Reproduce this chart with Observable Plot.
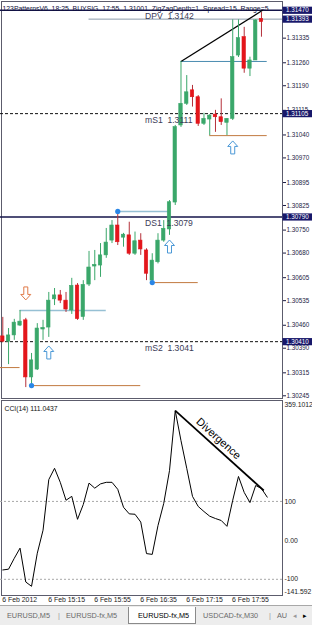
<!DOCTYPE html>
<html><head><meta charset="utf-8">
<script src="https://cdn.jsdelivr.net/npm/d3@7"></script>
<script src="https://cdn.jsdelivr.net/npm/@observablehq/plot@0.6"></script>
<style>
html,body{margin:0;padding:0;background:#fff;}
#wrap{position:relative;width:312px;height:625px;overflow:hidden;font-family:"Liberation Sans",Arial,sans-serif;}
#price,#cci{position:absolute;left:0;}
#price{top:0;} #cci{top:399px;}
#tabs{position:absolute;left:0;top:605px;width:312px;height:20px;background:#ededed;border-top:1px solid #a8a8a8;box-sizing:border-box;font-size:7.3px;color:#6a6a6a;}
#tabs span{position:absolute;top:5px;white-space:nowrap;}
#tabs .active{position:absolute;top:1px;height:17px;background:#fff;border:1px solid #8a8a8a;border-top:none;box-sizing:border-box;}
#tabs .active span{color:#000;top:4px;}
</style></head><body><div id="wrap"><div id="price"></div><div id="cci"></div><div id="tabs"></div></div>
<script>
// ---------- data ----------
const titleText = "123PatternsV6\u00a0\u00a018:25\u00a0\u00a0BUYSIG\u00a0\u00a017:55\u00a0\u00a01.31001\u00a0\u00a0ZigZagDepth=1\u00a0\u00a0Spread=15\u00a0\u00a0Range=5";
const opens  = [1.30426,1.30410,1.30429,1.30459,1.30475,1.30301,1.30325,1.30447,1.30453,1.30539,1.30551,1.30535,1.30505,1.30581,1.30485,1.30584,1.30639,1.30642,1.30673,1.30718,1.30764,1.30727,1.30734,1.30678,1.30718,1.30688,1.30596,1.30652,1.30718,1.30752,1.30834,1.31069,1.31135,1.31176,1.31155,1.31074,1.31087,1.31102,1.31094,1.31077,1.31089,1.31282,1.31338,1.31242,1.31267,1.31394,1.31393];
const highs  = [1.30484,1.30450,1.30478,1.30505,1.30481,1.30374,1.30465,1.30475,1.30560,1.30572,1.30566,1.30560,1.30603,1.30587,1.30596,1.30685,1.30688,1.30709,1.30755,1.30779,1.30807,1.30740,1.30774,1.30744,1.30739,1.30693,1.30678,1.30739,1.30779,1.30840,1.31069,1.31264,1.31221,1.31191,1.31160,1.31106,1.31102,1.31115,1.31150,1.31090,1.31391,1.31391,1.31368,1.31277,1.31391,1.31413,1.31393];
const lows   = [1.30407,1.30340,1.30414,1.30456,1.30270,1.30276,1.30322,1.30414,1.30423,1.30520,1.30526,1.30499,1.30493,1.30475,1.30475,1.30578,1.30596,1.30606,1.30664,1.30709,1.30703,1.30698,1.30673,1.30673,1.30673,1.30596,1.30590,1.30647,1.30713,1.30734,1.30825,1.31063,1.31130,1.31125,1.31066,1.31069,1.31038,1.31048,1.31069,1.31038,1.31084,1.31276,1.31228,1.31218,1.31267,1.31338,1.31393];
const closes = [1.30410,1.30429,1.30468,1.30471,1.30301,1.30353,1.30450,1.30452,1.30535,1.30551,1.30535,1.30508,1.30580,1.30479,1.30583,1.30636,1.30644,1.30673,1.30712,1.30764,1.30713,1.30736,1.30678,1.30716,1.30691,1.30617,1.30657,1.30718,1.30754,1.30835,1.31064,1.31135,1.31170,1.31155,1.31074,1.31089,1.31099,1.31094,1.31079,1.31089,1.31277,1.31335,1.31242,1.31267,1.31389,1.31384,1.31393];
const cciValues = [-76,-74,-46,-20,-107,-118,-33,26,156,185,149,103,113,54,92,147,134,145,149,149,131,85,68,67,47,-34,-36,38,95,179,333,256,185,113,87,74,62,56,51,36,103,164,123,97,141,133,111];

const priceTicks = [1.31335,1.31260,1.31190,1.31115,1.31040,1.30970,1.30895,1.30825,1.30750,1.30680,1.30605,1.30535,1.30460,1.30390,1.30315,1.30245];
const markerTexts  = ["1.31470","1.31393","1.31105","1.30790","1.30410"];
const markerPrices = [1.31420,1.31393,1.31105,1.30790,1.30410];

const levelNames  = ["DPV","mS1","DS1","mS2"];
const levelShown  = ["1.3142","1.3111","1.3079","1.3041"];
const levelPrices = [1.31420,1.31105,1.30790,1.30410];
const levelDashed = [false,true,false,true];
const levelLabelBar = 25;

const bidPrice = 1.31393, bidFromBar = 15;

const segFrom  = [31,20,3,36,26,5,-0.4];
const segTo    = [46,29,18,46,34,24,3];
const segPrice = [1.31264,1.30807,1.30505,1.31038,1.30590,1.30276,1.30331];
const segKind  = ["steel","light","light","brown","brown","brown","brown"];

const trendBars = [31,45.2], trendPrices = [1.31264,1.31420];

const pivotBars = [20,26,5], pivotPrices = [1.30807,1.30590,1.30276];
const signalBars = [40,29,8,4], signalPrices = [1.31002,1.30700,1.30377,1.30557], signalDir = ["up","up","up","down"];

const cciTitle = "CCI(14) 111.0437";
const cciMax = 359.1012, cciMin = -141.592;
const cciLevels = [100,-100];
const cciAxisValues = [100,0,-100], cciAxisTexts = ["100","0.00","-100"];
const divBars = [30,45.4], divValues = [333,128];
const divText = "Divergence";

const timeBars = [0,8,16,24,32,40];
const timeLabels = ["6 Feb 2012","6 Feb 15:15","6 Feb 15:55","6 Feb 16:35","6 Feb 17:15","6 Feb 17:55"];

const tabNames = ["EURUSD,M5","EURUSD-fx,M5","EURUSD-fx,M5","USDCAD-fx,M30","AU"];
const activeTab = 2;

// ---------- build ----------
const GREEN = "#3aa76a", RED = "#e3161b", RED_WICK = "#b4303a";
const FONT = "'Liberation Sans', Arial, sans-serif";
const xDomain = [-0.4, 48.66];

const candles = opens.map((o, i) => ({i, o, h: highs[i], l: lows[i], c: closes[i], up: closes[i] >= o}));
const markers = markerTexts.map((t, k) => ({t, p: markerPrices[k]}));
const levels = levelNames.map((n, k) => ({n, s: levelShown[k], p: levelPrices[k], dashed: levelDashed[k]}));
const segs = segFrom.map((f, k) => ({f, t: segTo[k], p: segPrice[k], kind: segKind[k]}));
const pivots = pivotBars.map((b, k) => ({b, p: pivotPrices[k]}));
const signals = signalBars.map((b, k) => ({b, p: signalPrices[k], d: signalDir[k]}));
const segColor = {steel: "#4a8cb0", light: "#96c0d4", brown: "#c27a40"};
const segWidth = {steel: 1, light: 1.5, brown: 1};

const upArrow = {draw(ctx, size) {
  const s = Math.sqrt(size / Math.PI) / 5;
  ctx.moveTo(0, -6.5*s); ctx.lineTo(5*s, -1*s); ctx.lineTo(2*s, -1*s); ctx.lineTo(2*s, 6.5*s);
  ctx.lineTo(-2*s, 6.5*s); ctx.lineTo(-2*s, -1*s); ctx.lineTo(-5*s, -1*s); ctx.closePath();
}};
const downArrow = {draw(ctx, size) {
  const s = Math.sqrt(size / Math.PI) / 5;
  ctx.moveTo(0, 6.5*s); ctx.lineTo(5*s, 1*s); ctx.lineTo(2*s, 1*s); ctx.lineTo(2*s, -6.5*s);
  ctx.lineTo(-2*s, -6.5*s); ctx.lineTo(-2*s, 1*s); ctx.lineTo(-5*s, 1*s); ctx.closePath();
}};
const boxSymbol = {draw(ctx) { ctx.moveTo(0, -3.6); ctx.lineTo(30, -3.6); ctx.lineTo(30, 3.6); ctx.lineTo(0, 3.6); ctx.closePath(); }};

const priceChart = Plot.plot({
  width: 312, height: 399,
  marginLeft: 0, marginRight: 30, marginTop: 0, marginBottom: 0,
  x: {domain: xDomain, axis: null},
  y: {domain: [1.302337, 1.314498], axis: "right", ticks: priceTicks, tickFormat: d => d.toFixed(5), tickSize: 3, tickPadding: 1, label: null},
  style: {fontFamily: FONT, fontSize: "6.3px", color: "#1c1c44", background: "transparent", overflow: "visible"},
  marks: [
    Plot.frame({stroke: "#5c5c6c", insetLeft: 1, insetTop: 1, insetBottom: 1}),
    Plot.ruleY(levels.filter(d => !d.dashed), {y: "p", stroke: "#14144a", strokeWidth: 1.5}),
    Plot.ruleY(levels.filter(d => d.dashed), {y: "p", stroke: "#111", strokeWidth: 1, strokeDasharray: "3,2"}),
    Plot.ruleY([bidPrice], {y: d => d, x1: bidFromBar, x2: xDomain[1], stroke: "#8a9aaa", strokeWidth: 1}),
    Plot.ruleY(segs, {y: "p", x1: "f", x2: "t", stroke: d => segColor[d.kind], strokeWidth: d => segWidth[d.kind]}),
    Plot.link([0], {x1: trendBars[0], y1: trendPrices[0], x2: trendBars[1], y2: trendPrices[1], stroke: "#000", strokeWidth: 1.3}),
    Plot.ruleX(candles, {x: "i", y1: "l", y2: "h", stroke: d => d.up ? GREEN : RED_WICK, strokeWidth: 1}),
    Plot.rect(candles, {x1: d => d.i - 0.3, x2: d => d.i + 0.3, y1: "o", y2: "c", fill: d => d.up ? GREEN : RED, stroke: d => d.up ? GREEN : RED, strokeWidth: 0.6}),
    Plot.dot(pivots, {x: "b", y: "p", r: 2.6, fill: "#2a86e6"}),
    Plot.dot(signals.filter(d => d.d === "up"), {x: "b", y: "p", r: 5, symbol: upArrow, fill: "white", stroke: "#4a98d6", strokeWidth: 1}),
    Plot.dot(signals.filter(d => d.d === "down"), {x: "b", y: "p", r: 5, symbol: downArrow, fill: "white", stroke: "#e07a48", strokeWidth: 1}),
    Plot.text(levels, {x: levelLabelBar, y: "p", text: d => d.n + "\u00a0\u00a0" + d.s, dx: -1.5, dy: 6.3, textAnchor: "start", fontSize: 8.6, fill: "#3c3c58"}),
    Plot.dot(markers, {y: "p", frameAnchor: "right", symbol: boxSymbol, fill: "#18186a"}),
    Plot.text(markers, {y: "p", frameAnchor: "right", text: "t", textAnchor: "start", dx: 3.5, fill: "white", fontSize: 6.3}),
    Plot.text([titleText], {frameAnchor: "top-left", text: d => d, dx: 2, dy: 6.2, textAnchor: "start", fontSize: 6.6, fill: "#10103a"})
  ]
});
priceChart.querySelectorAll("text").forEach(t => {
  if (t.textContent.startsWith("123Pattern")) { t.setAttribute("textLength", "266"); t.setAttribute("lengthAdjust", "spacingAndGlyphs"); }
});
document.getElementById("price").appendChild(priceChart);

const cciPts = cciValues.map((v, i) => ({i, v}));
const cciChart = Plot.plot({
  width: 312, height: 210,
  marginLeft: 0, marginRight: 30, marginTop: 1, marginBottom: 14,
  x: {domain: xDomain, axis: null},
  y: {domain: [cciMin, cciMax], axis: null},
  style: {fontFamily: FONT, fontSize: "6.8px", color: "#1c1c1c", background: "transparent", overflow: "visible"},
  marks: [
    Plot.frame({stroke: "#5c5c6c", insetLeft: 1}),
    Plot.ruleY(cciLevels, {stroke: "#a8a8a8", strokeDasharray: "2,2"}),
    Plot.line(cciPts, {x: "i", y: "v", stroke: "#000", strokeWidth: 1}),
    Plot.link([0], {x1: divBars[0], y1: divValues[0], x2: divBars[1], y2: divValues[1], stroke: "#000", strokeWidth: 1.7}),
    Plot.text([divText], {x: (divBars[0] + divBars[1]) / 2, y: (divValues[0] + divValues[1]) / 2, text: d => d, rotate: 42, dx: -1, dy: -12, fontSize: 11, fill: "#000"}),
    Plot.text([cciTitle], {frameAnchor: "top-left", text: d => d, dx: 4, dy: 5.5, textAnchor: "start", fontSize: 6.8, fill: "#111"}),
    Plot.text(cciAxisValues, {y: d => d, frameAnchor: "right", text: (d, k) => cciAxisTexts[k], textAnchor: "start", dx: 2, fontSize: 6.8}),
    Plot.text([cciMax], {y: d => d, frameAnchor: "right", text: d => d.toFixed(4), textAnchor: "start", dx: 2, dy: 4.5, fontSize: 6.8}),
    Plot.text([cciMin], {y: d => d, frameAnchor: "right", text: d => d.toFixed(3), textAnchor: "start", dx: 2, dy: -4, fontSize: 6.8}),
    Plot.text(timeBars, {x: d => d, frameAnchor: "bottom", text: (d, k) => timeLabels[k], textAnchor: "start", dx: -0.6, dy: 6.5, fontSize: 6.9, fill: "#1c1c1c"})
  ]
});
document.getElementById("cci").appendChild(cciChart);

// tabs
const tabs = document.getElementById("tabs");
const tabLefts = [7, 66, 137, 203, 277];
const sepLefts = [58, 269];
tabNames.forEach((name, k) => {
  if (k === activeTab) {
    const box = document.createElement("div");
    box.className = "active"; box.style.left = "128px"; box.style.width = "68px";
    const s = document.createElement("span"); s.textContent = name; s.style.left = (tabLefts[k] - 128) + "px";
    box.appendChild(s); tabs.appendChild(box);
  } else {
    const s = document.createElement("span"); s.textContent = name; s.style.left = tabLefts[k] + "px"; tabs.appendChild(s);
  }
});
sepLefts.forEach(l => { const s = document.createElement("span"); s.textContent = "|"; s.style.left = l + "px"; s.style.color = "#999"; tabs.appendChild(s); });
[["\u25C2", 293, "#999"], ["\u25B8", 303, "#000"]].forEach(([c, l, col]) => { const s = document.createElement("span"); s.textContent = c; s.style.left = l + "px"; s.style.color = col; tabs.appendChild(s); });
</script></body></html>
